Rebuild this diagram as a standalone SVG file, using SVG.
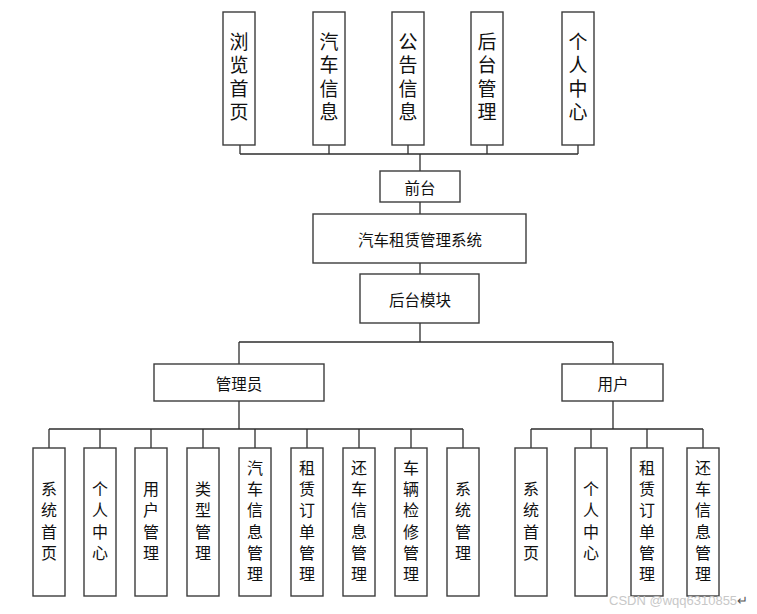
<svg xmlns="http://www.w3.org/2000/svg" width="757" height="614" viewBox="0 0 757 614">
<style>
.box{fill:#fff;stroke:#3c3c3c;stroke-width:1.4}
.ln{fill:none;stroke:#2e2e2e;stroke-width:1.3}
.t{font-family:"Noto Sans CJK SC","Liberation Sans",sans-serif;fill:#111;text-anchor:middle;dominant-baseline:central}
.v{writing-mode:vertical-rl;text-anchor:middle}
.big{font-size:19px;letter-spacing:4.3px}
.mid{font-size:15.5px}
.sm{font-size:16px;letter-spacing:5.2px}
.wm{font-family:"Liberation Sans",sans-serif;font-size:13px;fill:#c8c8c8}
</style>
<rect width="757" height="614" fill="#fff"/>
<g id="connectors">
<path class="ln" d="M240 145V154M329 145V154M408 145V154M487 145V154M578 145V154M240 154H578M420 154V171"/>
<path class="ln" d="M420 202V214M420 263V274M420 323V342M239 342H613M239 342V364M613 342V364"/>
<path class="ln" d="M239 401V429M49 429H463M49 429V448M100 429V448M151 429V448M203 429V448M255 429V448M307 429V448M359 429V448M411 429V448M463 429V448"/>
<path class="ln" d="M613 401V429M531 429H703M531 429V448M591 429V448M647 429V448M703 429V448"/>
</g>
<g id="n_liulan"><rect class="box" x="223" y="12" width="32" height="133"/><text class="t v big" x="239" y="79">浏览首页</text></g>
<g id="n_qiche"><rect class="box" x="313" y="12" width="32" height="133"/><text class="t v big" x="329" y="79">汽车信息</text></g>
<g id="n_gonggao"><rect class="box" x="392" y="12" width="32" height="133"/><text class="t v big" x="408" y="79">公告信息</text></g>
<g id="n_houtaiguanli"><rect class="box" x="471" y="12" width="32" height="133"/><text class="t v big" x="487" y="79">后台管理</text></g>
<g id="n_geren"><rect class="box" x="562" y="12" width="32" height="133"/><text class="t v big" x="578" y="79">个人中心</text></g>
<g id="n_qiantai"><rect class="box" x="380" y="171" width="80" height="31"/><text class="t mid" x="420" y="186.5">前台</text></g>
<g id="n_system"><rect class="box" x="313" y="214" width="213" height="49"/><text class="t mid" x="420" y="238.5">汽车租赁管理系统</text></g>
<g id="n_houtai"><rect class="box" x="360" y="274" width="119" height="49"/><text class="t mid" x="420" y="298.5">后台模块</text></g>
<g id="n_admin"><rect class="box" x="154" y="364" width="170" height="37"/><text class="t mid" x="239" y="382.5">管理员</text></g>
<g id="n_user"><rect class="box" x="562" y="364" width="101" height="37"/><text class="t mid" x="613" y="382.5">用户</text></g>
<g id="a1"><rect class="box" x="33" y="448" width="32" height="148"/><text class="t v sm" x="49" y="523.5">系统首页</text></g>
<g id="a2"><rect class="box" x="84" y="448" width="32" height="148"/><text class="t v sm" x="100" y="523.5">个人中心</text></g>
<g id="a3"><rect class="box" x="135" y="448" width="32" height="148"/><text class="t v sm" x="151" y="523.5">用户管理</text></g>
<g id="a4"><rect class="box" x="187" y="448" width="32" height="148"/><text class="t v sm" x="203" y="523.5">类型管理</text></g>
<g id="a5"><rect class="box" x="239" y="448" width="32" height="148"/><text class="t v sm" x="255" y="523.5">汽车信息管理</text></g>
<g id="a6"><rect class="box" x="291" y="448" width="32" height="148"/><text class="t v sm" x="307" y="523.5">租赁订单管理</text></g>
<g id="a7"><rect class="box" x="343" y="448" width="32" height="148"/><text class="t v sm" x="359" y="523.5">还车信息管理</text></g>
<g id="a8"><rect class="box" x="395" y="448" width="32" height="148"/><text class="t v sm" x="411" y="523.5">车辆检修管理</text></g>
<g id="a9"><rect class="box" x="447" y="448" width="32" height="148"/><text class="t v sm" x="463" y="523.5">系统管理</text></g>
<g id="u1"><rect class="box" x="515" y="448" width="32" height="148"/><text class="t v sm" x="531" y="523.5">系统首页</text></g>
<g id="u2"><rect class="box" x="575" y="448" width="32" height="148"/><text class="t v sm" x="591" y="523.5">个人中心</text></g>
<g id="u3"><rect class="box" x="631" y="448" width="32" height="148"/><text class="t v sm" x="647" y="523.5">租赁订单管理</text></g>
<g id="u4"><rect class="box" x="687" y="448" width="32" height="148"/><text class="t v sm" x="703" y="523.5">还车信息管理</text></g>
<text class="wm" x="609" y="605">CSDN @wqq6310855<tspan fill="#555">↵</tspan></text>
</svg>
